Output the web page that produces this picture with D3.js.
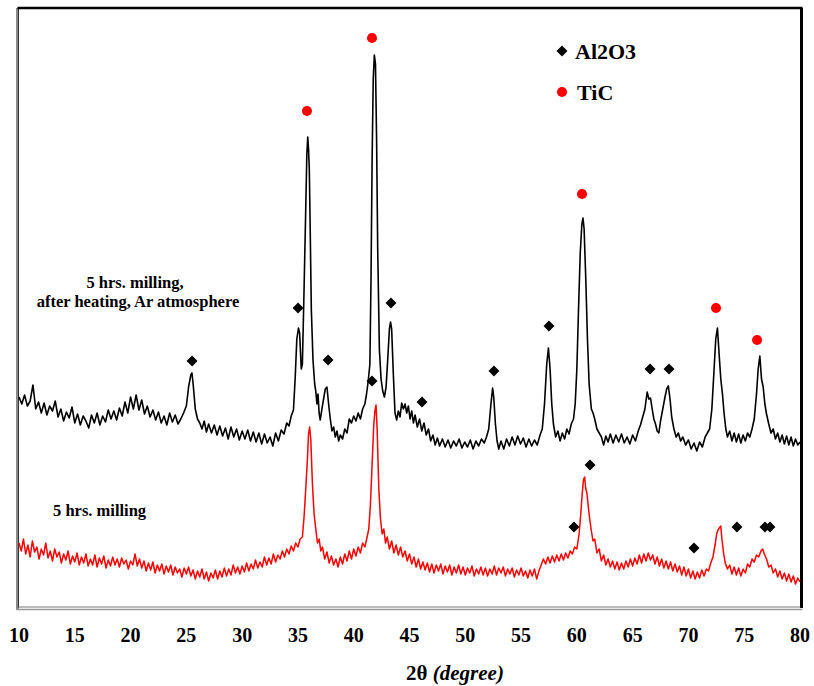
<!DOCTYPE html>
<html>
<head>
<meta charset="utf-8">
<script src="https://cdn.jsdelivr.net/npm/d3@7"></script>
<style>
  body { margin: 0; background: #fff; }
</style>
</head>
<body>
<div id="container"></div>
<script>
/* CONSTANTS AND GLOBALS */
const width = 814,
  height = 686,
  margin = { top: 8, bottom: 78, left: 19, right: 14 };

// x ticks (2theta, degree)
const xTicks = [10, 15, 20, 25, 30, 35, 40, 45, 50, 55, 60, 65, 70, 75, 80];

// 5 hrs milling, after heating, Ar atmosphere  [2theta, intensity a.u.]
const heatedScan = [
  [10.0,212],[10.25,205],[10.5,214],[10.75,203],[11.0,208],[11.25,224],[11.5,200],[11.75,207],[12.0,196],[12.25,206],
  [12.5,194],[12.75,203],[13.0,198],[13.25,208],[13.5,192],[13.75,200],[14.0,188],[14.25,197],[14.5,191],[14.75,202],
  [15.0,186],[15.25,195],[15.5,184],[15.75,193],[16.0,188],[16.25,181],[16.5,194],[16.75,186],[17.0,196],[17.25,184],
  [17.5,193],[17.75,187],[18.0,199],[18.25,190],[18.5,198],[18.75,189],[19.0,201],[19.25,193],[19.5,207],[19.75,196],
  [20.0,212],[20.25,200],[20.5,214],[20.75,199],[21.0,209],[21.25,195],[21.5,203],[21.75,192],[22.0,199],[22.25,189],
  [22.5,197],[22.75,186],[23.0,193],[23.25,184],[23.5,196],[23.75,187],[24.0,194],[24.25,185],[24.5,190],[24.75,196],
  [25.0,203],[25.2,222],[25.4,234],[25.5,236],[25.6,226],[25.8,200],[26.0,190],[26.2,186],[26.4,180],[26.6,188],
  [26.8,177],[27.0,185],[27.25,176],[27.5,184],[27.75,174],[28.0,183],[28.25,173],[28.5,181],[28.75,170],[29.0,182],
  [29.25,172],[29.5,180],[29.75,169],[30.0,178],[30.25,170],[30.5,179],[30.75,168],[31.0,177],[31.25,167],[31.5,176],
  [31.75,165],[32.0,175],[32.25,166],[32.5,172],[32.75,163],[33.0,176],[33.25,168],[33.5,179],[33.75,175],[34.0,186],
  [34.2,183],[34.4,193],[34.6,199],[34.75,230],[34.9,270],[35.05,281],[35.15,276],[35.3,240],[35.4,245],[35.55,320],
  [35.7,400],[35.8,455],[35.88,472],[35.95,460],[36.02,440],[36.1,380],[36.2,300],[36.35,249],[36.5,225],[36.6,218],
  [36.7,205],[36.8,215],[36.9,196],[37.0,189],[37.15,200],[37.3,210],[37.45,220],[37.6,222],[37.75,205],[37.9,190],
  [38.05,178],[38.2,182],[38.35,172],[38.5,178],[38.65,168],[38.8,174],[39.0,170],[39.2,180],[39.4,176],[39.6,190],
  [39.8,186],[40.0,193],[40.2,188],[40.4,196],[40.6,190],[40.8,200],[41.0,205],[41.15,215],[41.3,228],[41.45,245],
  [41.55,330],[41.65,450],[41.75,530],[41.85,554],[41.95,545],[42.05,470],[42.15,360],[42.3,260],[42.45,230],[42.6,218],
  [42.75,212],[42.9,222],[43.05,250],[43.2,280],[43.3,287],[43.4,280],[43.55,235],[43.7,196],[43.85,189],[44.0,198],
  [44.15,192],[44.3,206],[44.45,200],[44.6,205],[44.75,196],[44.9,203],[45.05,190],[45.2,198],[45.35,186],[45.5,194],
  [45.7,182],[45.9,190],[46.1,178],[46.3,186],[46.5,174],[46.7,180],[46.9,168],[47.1,174],[47.3,164],[47.5,171],
  [47.7,163],[47.95,170],[48.2,162],[48.45,169],[48.7,161],[48.95,168],[49.2,163],[49.45,170],[49.7,161],[49.95,167],
  [50.2,162],[50.45,169],[50.7,160],[50.95,168],[51.2,163],[51.45,170],[51.7,166],[51.9,172],[52.1,180],[52.3,205],
  [52.45,221],[52.55,212],[52.7,185],[52.85,168],[53.0,160],[53.2,168],[53.45,160],[53.7,170],[53.95,163],[54.2,172],
  [54.45,164],[54.7,173],[54.95,165],[55.2,171],[55.45,162],[55.7,170],[55.95,163],[56.2,169],[56.45,164],[56.7,174],
  [56.9,180],[57.1,205],[57.3,245],[57.45,261],[57.6,240],[57.75,205],[57.9,185],[58.1,172],[58.3,178],[58.5,168],
  [58.7,176],[58.9,170],[59.1,180],[59.3,175],[59.5,185],[59.7,190],[59.85,205],[60.0,240],[60.15,300],[60.3,355],
  [60.45,385],[60.55,391],[60.65,380],[60.8,330],[60.95,270],[61.1,225],[61.3,200],[61.45,196],[61.6,190],[61.8,180],
  [62.0,176],[62.2,172],[62.4,164],[62.6,173],[62.8,167],[63.0,175],[63.25,166],[63.5,174],[63.75,167],[64.0,175],
  [64.25,166],[64.5,172],[64.75,165],[65.0,174],[65.25,168],[65.5,178],[65.7,184],[65.9,192],[66.1,200],[66.3,217],
  [66.45,210],[66.6,211],[66.75,200],[66.9,190],[67.05,185],[67.2,178],[67.35,176],[67.5,188],[67.7,200],[67.9,212],
  [68.05,220],[68.2,223],[68.35,210],[68.5,192],[68.7,180],[68.9,172],[69.1,176],[69.3,168],[69.5,172],[69.75,164],
  [70.0,169],[70.25,160],[70.5,166],[70.75,158],[71.0,167],[71.25,162],[71.5,172],[71.7,176],[71.9,180],[72.1,200],
  [72.3,240],[72.45,270],[72.6,281],[72.75,255],[72.9,230],[73.05,215],[73.2,195],[73.35,180],[73.5,172],[73.7,178],
  [73.9,168],[74.1,176],[74.3,167],[74.5,175],[74.7,166],[74.9,174],[75.1,168],[75.3,176],[75.5,172],[75.7,180],
  [75.9,190],[76.1,215],[76.25,240],[76.4,253],[76.55,230],[76.7,222],[76.85,205],[77.0,195],[77.2,185],[77.4,176],
  [77.6,180],[77.8,170],[78.0,176],[78.2,167],[78.4,174],[78.6,165],[78.8,173],[79.0,164],[79.2,172],[79.4,163],
  [79.6,170],[79.8,164],[80.0,167]
];

// 5 hrs milling  [2theta, intensity a.u.]
const milledScan = [
  [10.0,66],[10.2,58],[10.4,70],[10.6,55],[10.8,64],[11.0,52],[11.2,68],[11.4,57],[11.6,62],[11.8,50],
  [12.0,60],[12.2,54],[12.4,66],[12.6,51],[12.8,58],[13.0,48],[13.2,60],[13.4,52],[13.6,57],[13.8,46],
  [14.0,55],[14.2,49],[14.4,58],[14.6,45],[14.8,53],[15.0,47],[15.2,56],[15.4,44],[15.6,52],[15.8,46],
  [16.0,55],[16.2,43],[16.4,50],[16.6,44],[16.8,54],[17.0,42],[17.2,51],[17.4,45],[17.6,53],[17.8,41],
  [18.0,49],[18.2,43],[18.4,52],[18.6,44],[18.8,50],[19.0,42],[19.2,51],[19.4,45],[19.6,49],[19.8,40],
  [20.0,48],[20.2,44],[20.4,55],[20.6,43],[20.8,50],[21.0,41],[21.2,48],[21.4,38],[21.6,46],[21.8,39],
  [22.0,47],[22.2,36],[22.4,44],[22.6,38],[22.8,45],[23.0,35],[23.2,43],[23.4,37],[23.6,44],[23.8,34],
  [24.0,42],[24.2,36],[24.4,40],[24.6,32],[24.8,41],[25.0,35],[25.2,42],[25.4,33],[25.6,39],[25.8,30],
  [26.0,38],[26.2,32],[26.4,40],[26.6,30],[26.8,37],[27.0,28],[27.2,36],[27.4,31],[27.6,39],[27.8,30],
  [28.0,38],[28.2,32],[28.4,41],[28.6,33],[28.8,40],[29.0,34],[29.2,44],[29.4,36],[29.6,42],[29.8,35],
  [30.0,43],[30.2,37],[30.4,46],[30.6,38],[30.8,45],[31.0,40],[31.2,49],[31.4,41],[31.6,47],[31.8,42],
  [32.0,52],[32.2,44],[32.4,51],[32.6,45],[32.8,55],[33.0,47],[33.2,54],[33.4,50],[33.6,58],[33.8,52],
  [34.0,60],[34.2,55],[34.4,63],[34.6,58],[34.8,66],[35.0,62],[35.2,70],[35.4,72],[35.55,92],[35.7,120],
  [35.85,150],[35.95,175],[36.05,182],[36.15,170],[36.3,125],[36.45,95],[36.6,80],[36.75,66],[36.9,70],[37.05,58],
  [37.2,62],[37.4,50],[37.6,57],[37.8,46],[38.0,53],[38.2,44],[38.4,50],[38.6,42],[38.8,52],[39.0,45],
  [39.2,55],[39.4,48],[39.6,58],[39.8,50],[40.0,60],[40.2,53],[40.4,62],[40.6,56],[40.8,66],[41.0,62],
  [41.2,72],[41.35,80],[41.5,105],[41.65,145],[41.8,185],[41.9,198],[42.0,204],[42.1,180],[42.25,120],[42.4,90],
  [42.55,75],[42.7,80],[42.85,66],[43.0,72],[43.2,60],[43.4,68],[43.6,56],[43.8,64],[44.0,54],[44.2,62],
  [44.4,52],[44.6,58],[44.8,48],[45.0,55],[45.2,45],[45.4,52],[45.6,42],[45.8,50],[46.0,40],[46.2,47],
  [46.4,39],[46.6,46],[46.8,37],[47.0,45],[47.2,36],[47.4,44],[47.6,38],[47.8,45],[48.0,35],[48.2,43],
  [48.4,37],[48.6,44],[48.8,34],[49.0,42],[49.2,36],[49.4,44],[49.6,35],[49.8,42],[50.0,34],[50.2,41],
  [50.4,36],[50.6,43],[50.8,33],[51.0,40],[51.2,35],[51.4,42],[51.6,34],[51.8,41],[52.0,33],[52.2,40],
  [52.4,35],[52.6,43],[52.8,34],[53.0,41],[53.2,36],[53.4,42],[53.6,33],[53.8,40],[54.0,35],[54.2,41],
  [54.4,32],[54.6,39],[54.8,34],[55.0,41],[55.2,33],[55.4,38],[55.6,31],[55.8,39],[56.0,33],[56.2,40],
  [56.4,30],[56.6,38],[56.8,44],[57.0,50],[57.2,45],[57.4,52],[57.6,46],[57.8,53],[58.0,47],[58.2,54],
  [58.4,48],[58.6,55],[58.8,49],[59.0,56],[59.2,51],[59.4,58],[59.6,55],[59.8,62],[60.0,60],[60.2,75],
  [60.35,95],[60.5,118],[60.6,130],[60.7,132],[60.8,120],[60.9,116],[61.0,105],[61.15,90],[61.3,78],[61.45,68],
  [61.6,70],[61.8,56],[62.0,60],[62.2,48],[62.4,54],[62.6,44],[62.8,50],[63.0,42],[63.2,48],[63.4,40],
  [63.6,47],[63.8,39],[64.0,46],[64.2,40],[64.4,48],[64.6,42],[64.8,50],[65.0,43],[65.2,51],[65.4,45],
  [65.6,54],[65.8,46],[66.0,55],[66.2,48],[66.4,56],[66.6,49],[66.8,54],[67.0,45],[67.2,52],[67.4,43],
  [67.6,50],[67.8,41],[68.0,48],[68.2,40],[68.4,47],[68.6,38],[68.8,45],[69.0,37],[69.2,43],[69.4,34],
  [69.6,42],[69.8,33],[70.0,40],[70.2,31],[70.4,38],[70.6,30],[70.8,37],[71.0,31],[71.2,39],[71.4,33],
  [71.6,40],[71.8,38],[72.0,46],[72.2,52],[72.4,65],[72.55,76],[72.7,80],[72.9,83],[73.0,70],[73.15,56],
  [73.3,46],[73.5,40],[73.7,44],[73.9,35],[74.1,42],[74.3,34],[74.5,41],[74.7,33],[74.9,40],[75.1,36],
  [75.3,45],[75.5,42],[75.7,50],[75.9,47],[76.1,54],[76.3,52],[76.5,58],[76.65,60],[76.8,55],[77.0,50],
  [77.2,42],[77.4,44],[77.6,36],[77.8,40],[78.0,32],[78.2,38],[78.4,30],[78.6,36],[78.8,28],[79.0,35],
  [79.2,27],[79.4,33],[79.6,25],[79.8,31],[80.0,27]
];

// phase markers [2theta, intensity a.u.]
const al2o3Marks = [
  [25.51,248],[35.01,301],[37.70,249],[41.64,228],[43.34,306],[46.12,207],
  [52.57,238],[57.50,283],[66.56,240],[68.26,240],
  [59.74,82],[61.18,144],[70.50,61],[74.35,82],[76.86,82],[77.31,82]
];
const ticMarks = [[35.81,498],[41.64,571],[60.46,415],[72.47,301],[76.15,269]];

/* SCALES */
const xScale = d3.scaleLinear()
  .domain([10, 80])
  .range([margin.left, width - margin.right]);

const yScale = d3.scaleLinear()
  .domain([0, 601])
  .range([height - margin.bottom + 1, margin.top]);

const svg = d3.select("#container")
  .append("svg")
  .attr("width", width)
  .attr("height", height)
  .attr("font-family", "'Liberation Serif', 'Times New Roman', Times, 'DejaVu Serif', serif")
  .attr("font-weight", "bold");

const line = d3.line()
  .x(d => xScale(d[0]))
  .y(d => yScale(d[1]));

// frame
const fx0 = 17.5, fx1 = 801.5, fy0 = 8, fy1 = 608;
svg.append("line").attr("x1", fx0).attr("x2", fx0).attr("y1", fy0).attr("y2", fy1 + 2)
  .attr("stroke", "#8a8a8a").attr("stroke-width", 3);
svg.append("line").attr("x1", fx0 + 1).attr("x2", fx0 + 1).attr("y1", fy0).attr("y2", fy1)
  .attr("stroke", "#333").attr("stroke-width", 1);
svg.append("line").attr("x1", fx0).attr("x2", fx1 + 1).attr("y1", fy0).attr("y2", fy0)
  .attr("stroke", "#000").attr("stroke-width", 2.5);
svg.append("line").attr("x1", fx1).attr("x2", fx1).attr("y1", fy0).attr("y2", fy1)
  .attr("stroke", "#000").attr("stroke-width", 3);
svg.append("line").attr("x1", fx0).attr("x2", fx1 - 1).attr("y1", fy1 - 1).attr("y2", fy1 - 1)
  .attr("stroke", "#777").attr("stroke-width", 1);
svg.append("line").attr("x1", fx0 - 1).attr("x2", fx1 + 1).attr("y1", fy1 + 1.5).attr("y2", fy1 + 1.5)
  .attr("stroke", "#999").attr("stroke-width", 1.5);

// scans
svg.append("path")
  .datum(milledScan)
  .attr("fill", "none")
  .attr("stroke", "#ff0000")
  .attr("stroke-width", 1.5)
  .attr("stroke-linejoin", "round")
  .attr("d", line);

svg.append("path")
  .datum(heatedScan)
  .attr("fill", "none")
  .attr("stroke", "#000")
  .attr("stroke-width", 1.6)
  .attr("stroke-linejoin", "round")
  .attr("d", line);

// markers
const diamond = d3.symbol().type(d3.symbolSquare).size(60);
const dot = d3.symbol().type(d3.symbolCircle).size(80);

svg.selectAll(".al2o3")
  .data(al2o3Marks)
  .join("path")
  .attr("class", "al2o3")
  .attr("d", diamond)
  .attr("fill", "#000")
  .attr("transform", d => `translate(${xScale(d[0])},${yScale(d[1])}) rotate(45)`);

svg.selectAll(".tic")
  .data(ticMarks)
  .join("path")
  .attr("class", "tic")
  .attr("d", dot)
  .attr("fill", "#ff0000")
  .attr("transform", d => `translate(${xScale(d[0])},${yScale(d[1])})`);

// x tick labels
svg.selectAll(".xtick")
  .data(xTicks)
  .join("text")
  .attr("class", "xtick")
  .attr("x", d => xScale(d))
  .attr("y", 642)
  .attr("text-anchor", "middle")
  .attr("font-size", 20)
  .text(d => d);

// axis title
const title = svg.append("text")
  .attr("x", 455)
  .attr("y", 680)
  .attr("text-anchor", "middle")
  .attr("font-size", 21);
title.append("tspan").text("2θ ");
title.append("tspan").attr("font-style", "italic").text("(degree)");

// legend
svg.append("path").attr("d", diamond).attr("fill", "#000")
  .attr("transform", "translate(562,51) rotate(45)");
svg.append("text").attr("x", 575).attr("y", 59).attr("font-size", 22).text("Al2O3");
svg.append("path").attr("d", dot).attr("fill", "#ff0000")
  .attr("transform", "translate(562,92)");
svg.append("text").attr("x", 577).attr("y", 100).attr("font-size", 22).text("TiC");

// scan labels
svg.append("text").attr("x", 135).attr("y", 288).attr("text-anchor", "middle")
  .attr("font-size", 16.5).text("5 hrs. milling,");
svg.append("text").attr("x", 138).attr("y", 307).attr("text-anchor", "middle")
  .attr("font-size", 16.5).text("after heating, Ar atmosphere");
svg.append("text").attr("x", 53).attr("y", 516)
  .attr("font-size", 16.5).text("5 hrs. milling");
</script>
</body>
</html>
